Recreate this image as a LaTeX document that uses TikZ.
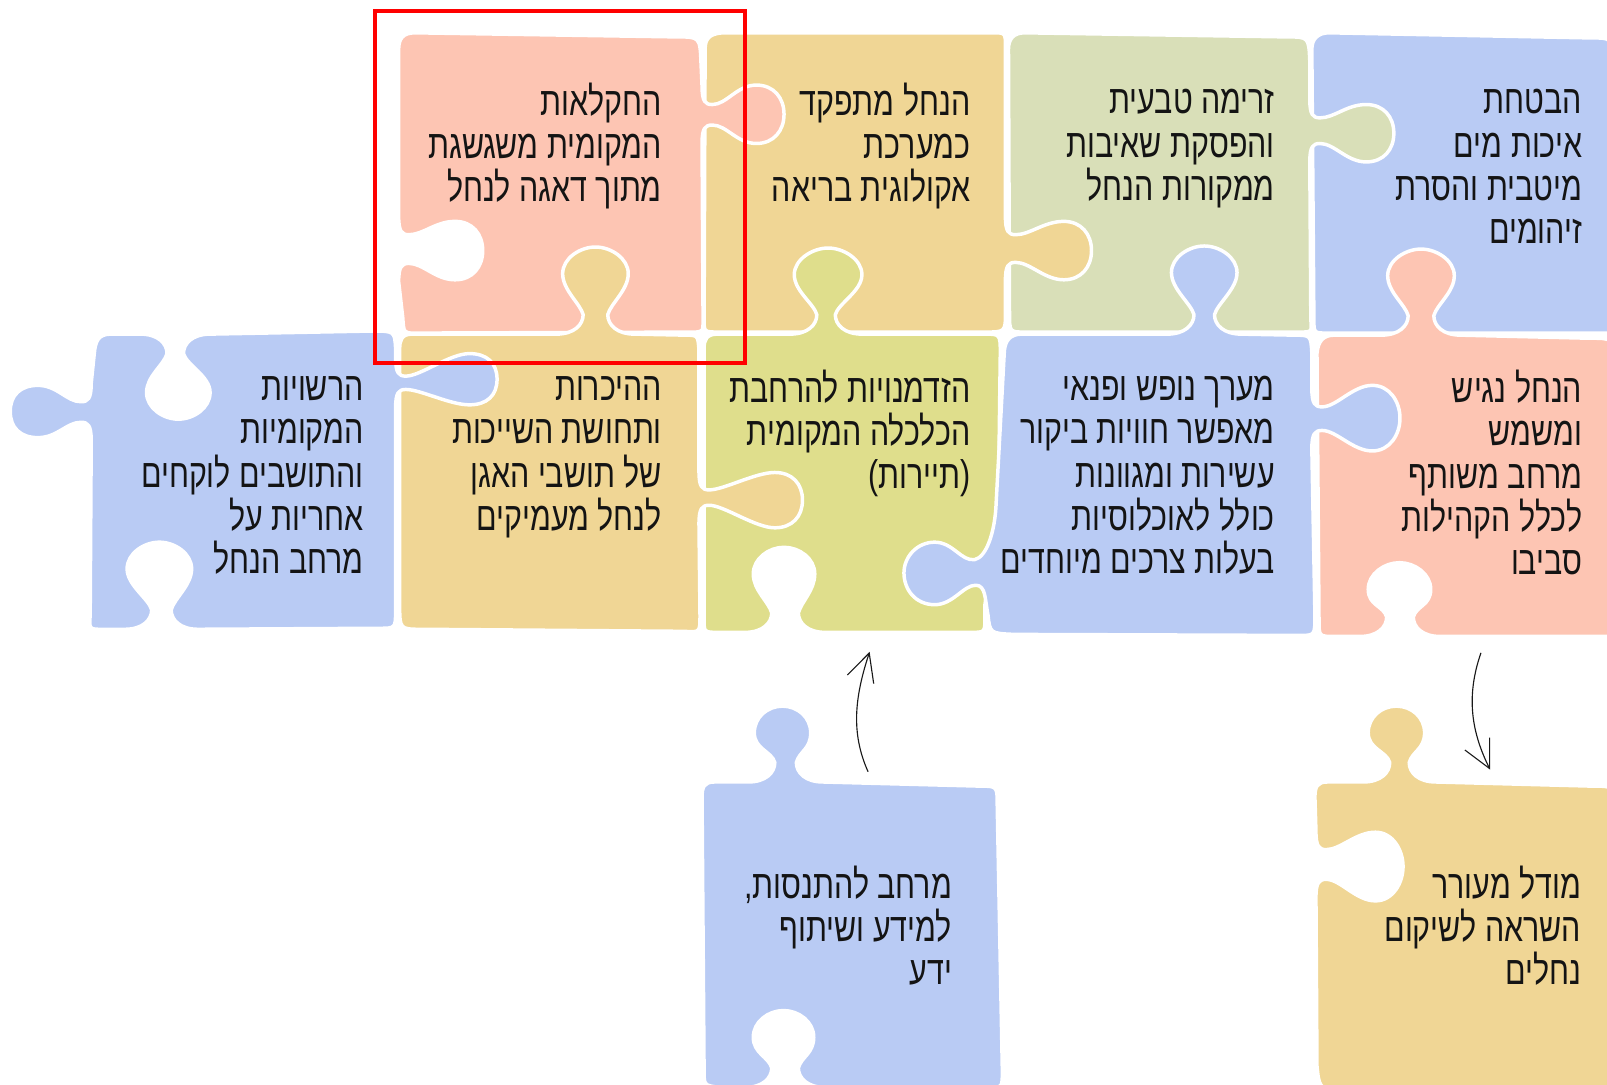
\documentclass[tikz,border=0pt]{standalone}
\usepackage{fontspec}
\usetikzlibrary{arrows.meta}
\TeXXeTstate=1
\newfontfamily\heb[Script=Hebrew,FakeStretch=0.76]{Liberation Sans}
\definecolor{cpeach}{HTML}{FDC5B3}
\definecolor{corange}{HTML}{F0D695}
\definecolor{cgreen}{HTML}{D9DFB8}
\definecolor{cblue}{HTML}{B9CBF4}
\definecolor{clime}{HTML}{DFDE8C}
% rounded corner: start, control, end
\newcommand\rc[3]{-- (#1) .. controls (#2) and (#2) .. (#3)}
% tab or notch on a horizontal edge: edge y, outer y, bulb sides a,b, neck sides p,q
\newcommand\hTab[6]{%
 -- ({#5-sign(#4-#3)*26},#1)
 .. controls ({#5-sign(#4-#3)*9},#1) and (#5,{#1+sign(#2-#1)*9}) .. (#5,{#1+sign(#2-#1)*19})
 .. controls ({#5-sign(#4-#3)*3},{#1+sign(#2-#1)*30}) and (#3,{#2-sign(#2-#1)*42}) .. (#3,{#2-sign(#2-#1)*26})
 .. controls (#3,{#2-sign(#2-#1)*11}) and ({(#3+#4)/2-sign(#4-#3)*15},#2) .. ({(#3+#4)/2},#2)
 .. controls ({(#3+#4)/2+sign(#4-#3)*15},#2) and (#4,{#2-sign(#2-#1)*11}) .. (#4,{#2-sign(#2-#1)*26})
 .. controls (#4,{#2-sign(#2-#1)*42}) and ({#6+sign(#4-#3)*3},{#1+sign(#2-#1)*30}) .. (#6,{#1+sign(#2-#1)*19})
 .. controls (#6,{#1+sign(#2-#1)*9}) and ({#6+sign(#4-#3)*9},#1) .. ({#6+sign(#4-#3)*26},#1)}
% the same on a vertical edge: edge x, outer x, bulb sides a,b, neck sides p,q
\newcommand\vTab[6]{%
 -- (#1,{#5-sign(#4-#3)*18})
 .. controls (#1,{#5-sign(#4-#3)*3}) and ({#1+sign(#2-#1)*3},#5) .. ({#1+sign(#2-#1)*10},#5)
 .. controls ({#1+sign(#2-#1)*24},#5) and ({#2-sign(#2-#1)*46},#3) .. ({#2-sign(#2-#1)*27},#3)
 .. controls ({#2-sign(#2-#1)*10},#3) and (#2,{(#3+#4)/2-sign(#4-#3)*16}) .. (#2,{(#3+#4)/2})
 .. controls (#2,{(#3+#4)/2+sign(#4-#3)*16}) and ({#2-sign(#2-#1)*10},#4) .. ({#2-sign(#2-#1)*27},#4)
 .. controls ({#2-sign(#2-#1)*46},#4) and ({#1+sign(#2-#1)*24},#6) .. ({#1+sign(#2-#1)*10},#6)
 .. controls ({#1+sign(#2-#1)*3},#6) and (#1,{#6+sign(#4-#3)*3}) .. (#1,{#6+sign(#4-#3)*18})}
\newcommand\hl[1]{\rule{0pt}{30pt}\beginR #1\endR}
\tikzset{
  piece/.style={fill=#1,draw=white,line width=3.4pt,line join=round},
  label/.style={anchor=north east,inner sep=0pt,align=right,text=black!92,
    font=\heb\fontsize{39}{42}\selectfont},
  curl/.style={line width=1.1pt,draw=black!90,-{Straight Barb[length=27pt,width=27pt,line width=1.1pt]}},
  frame/.style={draw=red,line width=3.6pt}
}
\begin{document}
\begin{tikzpicture}[x=1pt,y=-1pt]
\clip (0,0) rectangle (1568,1058);
\fill[white] (0,0) rectangle (1568,1058);
% row 1
\path[piece=cblue] (1280,48) .. controls (1280,38) and (1286,32) .. (1297,32) \rc{1552,37}{1572,37}{1573,55} \rc{1573,325}{1573,325}{1573,325} \rc{1296,325}{1282,325}{1282,312} -- cycle;
\path[piece=cgreen] (984,48) .. controls (984,38) and (989,32) .. (1000,32) \rc{1255,36}{1277,36}{1278,60} \vTab{1278}{1360}{102}{158}{115}{140} \rc{1279,312}{1280,324}{1268,324} \rc{1000,324}{985,324}{985,305} -- cycle;
\path[piece=corange] (688,48) .. controls (688,38) and (692,33) .. (705,32) \rc{968,32}{981,32}{981,45} \vTab{981}{1065}{216}{273}{229}{256} \rc{981,305}{981,324}{960,324} \rc{702,324}{687,324}{687,312} -- cycle;
\path[piece=cpeach] (389,48) .. controls (389,38) and (393,32) .. (405,32) \rc{660,36}{683,36}{684,62} \vTab{685}{765}{83}{140}{102}{122} \rc{686,312}{686,324}{675,324} \rc{405,325}{394,325}{393,310} \vTab{389}{471}{273}{216}{257}{229} -- cycle;
% row 2
\path[piece=cpeach] (1285,345) .. controls (1286,333) and (1291,327) .. (1302,327) \hTab{327}{243}{1354}{1419}{1374}{1399} \rc{1550,330}{1574,330}{1574,350} \rc{1574,621}{1574,621}{1574,621} \hTab{621}{549}{1396}{1335}{1379}{1353} \rc{1302,621}{1287,621}{1287,605} -- cycle;
\path[piece=clime] (687,340) .. controls (687,332) and (689,326) .. (700,326) \hTab{326}{242}{775}{841}{797}{815} \rc{960,326}{976,326}{976,345} -- (974,500) -- (961,590) \rc{961,603}{961,617}{947,617} \hTab{617}{534}{795}{735}{779}{753} \rc{702,617}{687,617}{687,605} -- cycle;
\path[piece=cblue] (980,342) .. controls (981,332) and (986,326) .. (997,326) \hTab{326}{240}{1143}{1207}{1165}{1185} \rc{1262,327}{1279,327}{1280,345} \vTab{1280}{1366}{376}{440}{397}{420} \rc{1283,600}{1283,620}{1268,620} \rc{990,619}{966,618}{964,600} .. controls (961,585) and (962,571) .. (952,571) .. controls (940,571) and (930,590) .. (912,590) .. controls (893,590) and (882,575) .. (882,559) .. controls (882,543) and (895,529) .. (912,529) .. controls (930,529) and (938,548) .. (951,546) .. controls (962,544) and (971,520) .. (972,490) -- cycle;
\path[piece=corange] (390,340) .. controls (390,332) and (392,326) .. (402,326) \hTab{326}{241}{549}{613}{569}{593} \rc{668,327}{681,327}{682,342} \vTab{682}{783}{461}{515}{478}{493} \rc{683,600}{683,617}{668,616} \rc{412,614}{390,614}{390,590} -- cycle;
\path[piece=cblue] (92,345) .. controls (93,333) and (96,326) .. (108,326) \hTab{326}{409}{143}{205}{163}{179} \rc{362,323}{385,323}{386,340} \vTab{386}{485}{345}{395}{367}{380} \rc{386,595}{386,613}{370,613} \hTab{614}{529}{187}{124}{167}{148} \rc{100,614}{87,614}{88,600} \vTab{89}{10}{427}{376}{412}{392} -- cycle;
% row 3
\path[piece=cblue] (685,778) .. controls (685,768) and (687,763) .. (697,763) \hTab{763}{689}{736}{791}{756}{777} \rc{955,767}{973,767}{973,785} \rc{978,1045}{978,1061}{965,1061} \hTab{1061}{986}{794}{735}{779}{753} \rc{702,1061}{687,1059}{687,1045} -- cycle;
\path[piece=corange] (1283,778) .. controls (1283,768) and (1285,763) .. (1295,763) \hTab{763}{689}{1335}{1390}{1356}{1375} \rc{1552,767}{1575,767}{1575,785} \rc{1575,1070}{1575,1070}{1575,1070} \rc{1305,1070}{1287,1060}{1285,1040} \vTab{1284}{1369}{879}{812}{858}{829} -- cycle;
% labels
\node[label] (t1) at (646,81) {\hl{החקלאות}\\\hl{המקומית משגשגת}\\\hl{מתוך דאגה לנחל}};
\node[label] (t2) at (947,81) {\hl{הנחל מתפקד}\\\hl{כמערכת}\\\hl{אקולוגית בריאה}};
\node[label] (t3) at (1244,81) {\hl{זרימה טבעית}\\\hl{והפסקת שאיבות}\\\hl{ממקורות הנחל}};
\node[label] (t4) at (1544,81) {\hl{הבטחת}\\\hl{איכות מים}\\\hl{מיטבית והסרת}\\\hl{זיהומים}};
\node[label] (t5) at (355,361) {\hl{הרשויות}\\\hl{המקומיות}\\\hl{והתושבים לוקחים}\\\hl{אחריות על}\\\hl{מרחב הנחל}};
\node[label] (t6) at (646,361) {\hl{ההיכרות}\\\hl{ותחושת השייכות}\\\hl{של תושבי האגן}\\\hl{לנחל מעמיקים}};
\node[label] (t7) at (947,361) {\hl{הזדמנויות להרחבת}\\\hl{הכלכלה המקומית}\\\hl{(תיירות)}};
\node[label] (t8) at (1244,361) {\hl{מערך נופש ופנאי}\\\hl{מאפשר חוויות ביקור}\\\hl{עשירות ומגוונות}\\\hl{כולל לאוכלוסיות}\\\hl{בעלות צרכים מיוחדים}};
\node[label] (t9) at (1544,361) {\hl{הנחל נגיש}\\\hl{ומשמש}\\\hl{מרחב משותף}\\\hl{לכלל הקהילות}\\\hl{סביבו}};
\node[label] (t10) at (929,845) {\hl{מרחב להתנסות,}\\\hl{למידע ושיתוף}\\\hl{ידע}};
\node[label] (t11) at (1543,845) {\hl{מודל מעורר}\\\hl{השראה לשיקום}\\\hl{נחלים}};
% arrows
\coordinate (a1) at (847,753);
\coordinate (a2) at (848.5,636);
\coordinate (b1) at (1445,637);
\coordinate (b2) at (1454,751);
\draw[curl] (a1) .. controls (830,715) and (834,680) .. (a2);
\draw[curl] (b1) .. controls (1430,680) and (1436,715) .. (b2);
% red frame
\draw[frame] (366,11) rectangle (727,354);
\end{tikzpicture}
\end{document}
